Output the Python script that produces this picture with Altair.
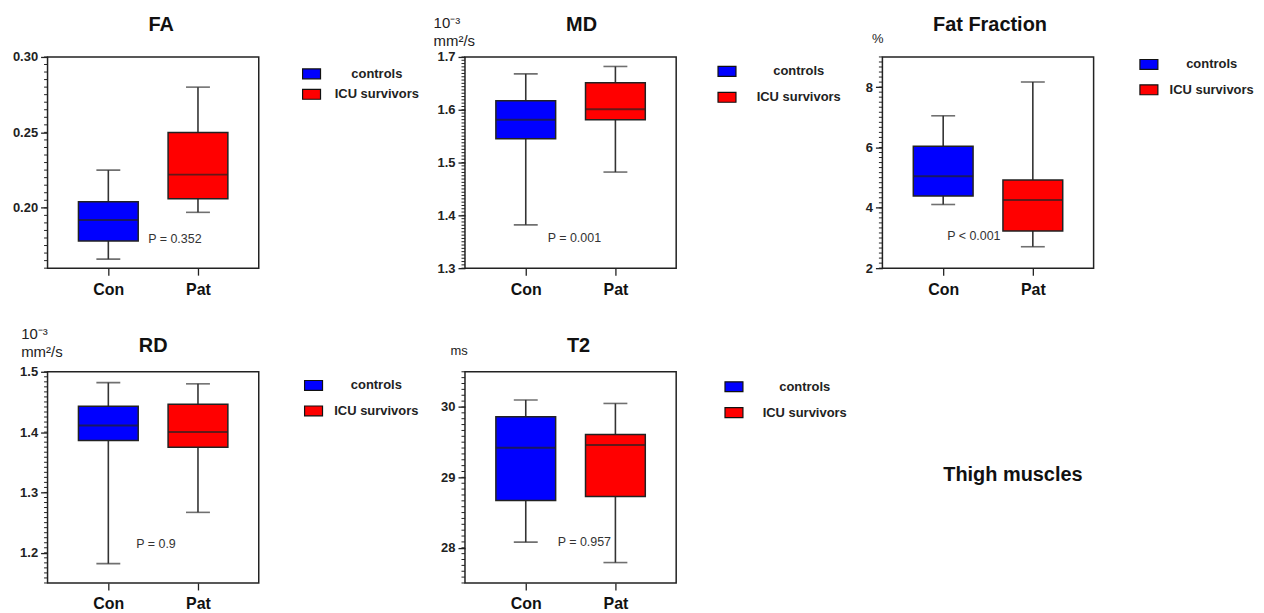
import altair as alt
import pandas as pd
import numpy as np

# ---------------- data ----------------
groups = ["Con", "Pat"]
legend_labels = ["controls", "ICU survivors"]
box_colors = ["#0000FF", "#FF0000"]

titles = ["FA", "MD", "Fat Fraction", "RD", "T2"]
units = [None, ["10⁻³", "mm²/s"], "%", ["10⁻³", "mm²/s"], "ms"]
p_texts = ["P = 0.352", "P = 0.001", "P < 0.001", "P = 0.9", "P = 0.957"]
side_caption = "Thigh muscles"

# box statistics [Con, Pat]
fa_min = [0.166, 0.197]
fa_q1 = [0.178, 0.206]
fa_med = [0.192, 0.222]
fa_q3 = [0.204, 0.250]
fa_max = [0.225, 0.280]

md_min = [1.382, 1.482]
md_q1 = [1.545, 1.581]
md_med = [1.581, 1.601]
md_q3 = [1.617, 1.651]
md_max = [1.668, 1.682]

ff_min = [4.11, 2.71]
ff_q1 = [4.39, 3.23]
ff_med = [5.05, 4.26]
ff_q3 = [6.04, 4.92]
ff_max = [7.05, 8.17]

rd_min = [1.182, 1.267]
rd_q1 = [1.386, 1.375]
rd_med = [1.411, 1.400]
rd_q3 = [1.443, 1.446]
rd_max = [1.482, 1.480]

t2_min = [28.08, 27.79]
t2_q1 = [28.67, 28.73]
t2_med = [29.42, 29.46]
t2_q3 = [29.86, 29.61]
t2_max = [30.10, 30.05]

# axes
domains = [[0.16, 0.30], [1.3, 1.7], [2, 9], [1.15, 1.5], [27.5, 30.5]]
major_ticks = [[0.20, 0.25, 0.30], [1.3, 1.4, 1.5, 1.6, 1.7], [2, 4, 6, 8],
               [1.2, 1.3, 1.4, 1.5], [28, 29, 30]]
tick_formats = [".2f", ".1f", "d", ".1f", "d"]
minor_steps = [0.005, 0.1 / 16, 1 / 6, 0.1 / 12, 1 / 12]

# P-value label vertical anchor (data units)
p_y = [0.179, 1.357, 3.06, 1.215, 28.085]

stats = [
    (fa_min, fa_q1, fa_med, fa_q3, fa_max),
    (md_min, md_q1, md_med, md_q3, md_max),
    (ff_min, ff_q1, ff_med, ff_q3, ff_max),
    (rd_min, rd_q1, rd_med, rd_q3, rd_max),
    (t2_min, t2_q1, t2_med, t2_q3, t2_max),
]

# ---------------- layout / style ----------------
W, H = 212, 212
FONT = "Liberation Sans"
title_dx = [8, 11, 2, 0, 8]
title_rise = [26, 26, 26, 20, 20]
unit_xy = [None, (-32, -30, 19), (-11, -15, 15), (-27, -33, 17.5), (-15, -17, 15)]
unit_size = [15, 15, 13, 15, 13]
p_dx = [40, 22, 4, 28, 32]
leg_x = [255, 253, 257.5, 257, 260]
leg_y = [7, 4.5, -2.5, 3.7, 5]
leg_rowpad = [2.5, 8, 7.5, 7.6, 8]
leg_laboff = [55.5, 62, 53, 53, 61]


def minor_values(dom, start, step):
    vals = []
    k = 0
    while start - k * step >= dom[0] - 1e-9:
        vals.append(start - k * step)
        k += 1
    k = 1
    while start + k * step <= dom[1] + 1e-9:
        vals.append(start + k * step)
        k += 1
    return vals


def panel(i):
    mn, q1, med, q3, mx = stats[i]
    df = pd.DataFrame({"grp": groups, "legend": legend_labels,
                       "lo": mn, "q1": q1, "med": med, "q3": q3, "hi": mx})
    yscale = alt.Scale(domain=domains[i], nice=False, zero=False)
    xscale = alt.Scale(type="point", padding=0.678)

    ax_kwargs = dict(values=major_ticks[i], format=tick_formats[i], tickSize=7,
                     tickWidth=1.3, tickColor="#222", labelPadding=3,
                     labelFontSize=13, labelFontWeight="bold", labelColor="#222",
                     labelFont=FONT, domain=False, grid=False)
    if units[i] is None:
        yaxis = alt.Axis(title=None, **ax_kwargs)
    else:
        tx, ty, lh = unit_xy[i]
        yaxis = alt.Axis(title=units[i], titleAngle=0, titleAlign="left",
                         titleBaseline="alphabetic", titleX=tx, titleY=ty,
                         titleLineHeight=lh, titleFontSize=unit_size[i],
                         titleFontWeight="normal", titleColor="#222",
                         titleFont=FONT, **ax_kwargs)
    xaxis = alt.Axis(title=None, labelAngle=0, labelFontSize=16,
                     labelFontWeight="bold", labelColor="#111", labelFont=FONT,
                     tickSize=7, tickWidth=1.3, tickColor="#222",
                     labelPadding=19, labelBaseline="alphabetic",
                     domain=False, grid=False)
    X = alt.X("grp:N", sort=groups, scale=xscale, axis=xaxis)

    def Y(f):
        return alt.Y(f, scale=yscale, axis=yaxis)

    base = alt.Chart(df)
    wh_hi = base.mark_rule(color="#333", strokeWidth=1.6).encode(x=X, y=Y("q3:Q"), y2="hi:Q")
    wh_lo = base.mark_rule(color="#333", strokeWidth=1.6).encode(x=X, y=Y("lo:Q"), y2="q1:Q")
    box = base.mark_bar(size=60, stroke="#222", strokeWidth=1.5, opacity=1).encode(
        x=X, y=Y("q1:Q"), y2="q3:Q",
        color=alt.Color("legend:N", title=None,
                        scale=alt.Scale(domain=legend_labels, range=box_colors),
                        legend=alt.Legend(orient="none", legendX=leg_x[i], legendY=leg_y[i],
                                          symbolType="M-1,-0.55L1,-0.55L1,0.55L-1,0.55Z",
                                          symbolSize=324, symbolStrokeColor="#111",
                                          symbolStrokeWidth=1.2, symbolOpacity=1,
                                          labelFontSize=13, labelFontWeight="bold",
                                          labelColor="#222", labelFont=FONT,
                                          labelAlign="center", labelOffset=leg_laboff[i],
                                          rowPadding=leg_rowpad[i], padding=0)))
    med_t = base.mark_tick(size=60, thickness=2, color="#222").encode(x=X, y=Y("med:Q"))
    cap_hi = base.mark_tick(size=24, thickness=1.6, color="#333").encode(x=X, y=Y("hi:Q"))
    cap_lo = base.mark_tick(size=24, thickness=1.6, color="#333").encode(x=X, y=Y("lo:Q"))

    minor_df = pd.DataFrame({"v": minor_values(domains[i], major_ticks[i][0], minor_steps[i])})
    minor = alt.Chart(minor_df).mark_rule(color="#222", strokeWidth=1).encode(
        y=Y("v:Q"), x=alt.value(-3.5), x2=alt.value(0))

    ptxt = alt.Chart(pd.DataFrame({"t": [p_texts[i]]})).mark_text(
        align="left", baseline="middle", dx=p_dx[i], fontSize=12.5,
        color="#333", font=FONT).encode(
        x=alt.XDatum("Con", type="nominal", scale=xscale, axis=xaxis),
        y=alt.YDatum(p_y[i], type="quantitative", scale=yscale, axis=yaxis),
        text="t:N")

    ttl = alt.Chart(pd.DataFrame({"t": [titles[i]]})).mark_text(
        align="center", baseline="alphabetic", fontSize=20, fontWeight="bold",
        color="#111", font=FONT).encode(
        text="t:N", x=alt.value(W / 2 + title_dx[i]), y=alt.value(-title_rise[i]))

    return alt.layer(minor, wh_hi, wh_lo, box, med_t, cap_hi, cap_lo, ptxt, ttl).properties(
        width=W, height=H)


panels = [panel(i) for i in range(5)]

caption = alt.Chart(pd.DataFrame({"t": [side_caption]})).mark_text(
    fontSize=20, fontWeight="bold", align="center", baseline="alphabetic",
    color="#111", font=FONT).encode(
    text="t:N", x=alt.value(131), y=alt.value(110)).properties(
    width=W, height=H, view=alt.ViewBackground(strokeOpacity=0))

chart = alt.concat(*panels, caption, columns=3,
                   spacing={"row": 104, "column": 207}, bounds="flush").resolve_scale(
    x="independent", y="independent", color="independent").resolve_legend(
    color="independent").resolve_axis(x="independent", y="independent").properties(
    padding={"left": 2.7, "top": 5, "right": 0, "bottom": 0}, background="white"
).configure(font=FONT, view=alt.ViewConfig(stroke="#222", strokeWidth=1.5))

chart.save("out.html", embed_options={"renderer": "svg", "actions": False})
